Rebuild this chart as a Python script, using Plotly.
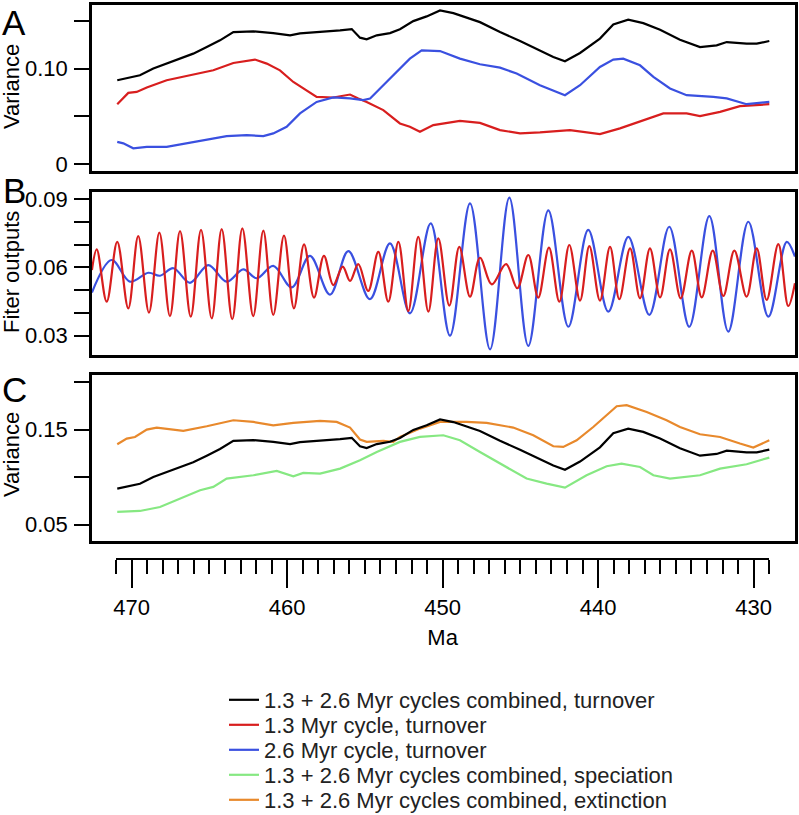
import plotly.graph_objects as go

# ---------------- data (Ma, value) ----------------
# Panel A / C : combined turnover (black)
black_ma = [470.93, 469.90, 469.47, 468.61, 467.32, 466.04, 465.17, 464.32, 463.46, 462.17,
            460.89, 459.81, 459.17, 457.88, 456.59, 455.84, 455.31, 454.88, 454.23, 453.38,
            452.74, 451.88, 451.02, 450.16, 449.30, 447.59, 446.30, 445.01, 443.73, 442.87,
            442.12, 441.15, 439.87, 439.01, 438.05, 437.08, 436.00, 434.72, 433.43, 432.36,
            431.71, 430.43, 429.78, 428.97]
black_val = [0.0878, 0.0917, 0.0930, 0.1000, 0.1076, 0.1156, 0.1225, 0.1295, 0.1381, 0.1389,
             0.1371, 0.1347, 0.1368, 0.1381, 0.1399, 0.1413, 0.1323, 0.1305, 0.1347, 0.1371,
             0.1411, 0.1496, 0.1545, 0.1607, 0.1579, 0.1485, 0.1381, 0.1288, 0.1191, 0.1121,
             0.1076, 0.1163, 0.1313, 0.1461, 0.1510, 0.1475, 0.1406, 0.1302, 0.1225, 0.1243,
             0.1277, 0.1260, 0.1260, 0.1288]

# Panel A : 1.3 Myr cycle, turnover (red)
red_ma = [470.93, 470.54, 470.22, 469.68, 469.03, 467.75, 466.46, 464.75, 463.46, 462.07,
          461.31, 460.46, 459.60, 458.74, 458.10, 457.03, 455.95, 455.42, 454.88, 453.81,
          452.74, 452.10, 451.45, 450.59, 448.88, 447.59, 446.30, 445.01, 443.73, 441.80,
          439.87, 438.58, 437.29, 435.79, 434.29, 433.43, 432.14, 430.86, 428.97]
red_val = [0.0628, 0.0688, 0.0746, 0.0756, 0.0802, 0.0878, 0.0920, 0.0982, 0.1058, 0.1094,
           0.1052, 0.0982, 0.0860, 0.0774, 0.0704, 0.0698, 0.0729, 0.0688, 0.0652, 0.0566,
           0.0427, 0.0392, 0.0340, 0.0410, 0.0454, 0.0433, 0.0357, 0.0323, 0.0333, 0.0357,
           0.0316, 0.0375, 0.0444, 0.0531, 0.0531, 0.0503, 0.0548, 0.0607, 0.0628]

# Panel A : 2.6 Myr cycle, turnover (blue)
blue_ma = [470.93, 470.54, 469.90, 469.03, 467.75, 466.46, 465.17, 463.89, 462.60, 461.53,
           460.89, 460.03, 459.17, 458.10, 457.03, 455.95, 455.10, 454.66, 453.81, 452.74,
           452.10, 451.34, 450.16, 448.88, 447.59, 446.30, 445.23, 443.73, 442.12, 441.15,
           439.87, 439.01, 438.37, 437.29, 436.43, 435.36, 434.29, 432.57, 431.71, 430.43,
           428.97]
blue_val = [0.0235, 0.0219, 0.0167, 0.0183, 0.0183, 0.0219, 0.0253, 0.0295, 0.0305, 0.0295,
            0.0323, 0.0392, 0.0531, 0.0652, 0.0698, 0.0688, 0.0670, 0.0688, 0.0826, 0.1000,
            0.1104, 0.1191, 0.1183, 0.1104, 0.1045, 0.1010, 0.0948, 0.0826, 0.0722, 0.0826,
            0.1017, 0.1094, 0.1104, 0.1034, 0.0913, 0.0792, 0.0722, 0.0704, 0.0688, 0.0628,
            0.0652]

# Panel B : filter outputs (extrema of the 1.3 Myr filter, red)
fred_ma = [472.56, 472.25, 471.61, 470.93, 470.22, 469.58, 468.89, 468.22, 467.54, 466.89,
           466.20, 465.54, 464.85, 464.21, 463.53, 462.88, 462.18, 461.53, 460.89, 460.20,
           459.56, 458.91, 458.27, 457.63, 457.03, 456.42, 455.95, 455.42, 454.78, 454.13,
           453.49, 452.84, 452.20, 451.56, 450.91, 450.27, 449.56, 448.92, 448.23, 447.59,
           446.83, 445.91, 445.19, 444.48, 443.84, 443.15, 442.48, 441.84, 441.15, 440.55,
           439.87, 439.22, 438.62, 437.93, 437.29, 436.65, 436.00, 435.36, 434.67, 433.96,
           433.32, 432.61, 431.93, 431.22, 430.43, 429.78, 429.14, 428.39, 427.75, 427.32]
fred_val = [0.0588, 0.0679, 0.0449, 0.0712, 0.0420, 0.0737, 0.0401, 0.0752, 0.0386, 0.0759,
            0.0383, 0.0764, 0.0376, 0.0768, 0.0372, 0.0771, 0.0386, 0.0761, 0.0391, 0.0739,
            0.0420, 0.0701, 0.0467, 0.0650, 0.0522, 0.0603, 0.0540, 0.0614, 0.0496, 0.0668,
            0.0449, 0.0712, 0.0408, 0.0734, 0.0405, 0.0727, 0.0432, 0.0690, 0.0471, 0.0642,
            0.0525, 0.0614, 0.0508, 0.0654, 0.0467, 0.0686, 0.0449, 0.0698, 0.0454, 0.0693,
            0.0454, 0.0690, 0.0460, 0.0683, 0.0464, 0.0683, 0.0468, 0.0679, 0.0464, 0.0673,
            0.0468, 0.0673, 0.0474, 0.0673, 0.0471, 0.0683, 0.0457, 0.0702, 0.0430, 0.0530]

# Panel B : filter outputs (extrema of the 2.6 Myr filter, blue)
fblue_ma = [472.56, 471.29, 470.11, 468.93, 468.18, 467.32, 466.25, 465.07, 463.89, 462.82,
            461.96, 460.89, 459.70, 458.53, 457.24, 456.06, 454.67, 453.38, 452.09, 450.76,
            449.52, 448.23, 446.94, 445.70, 444.48, 443.19, 441.90, 440.62, 439.33, 438.04,
            436.69, 435.41, 434.12, 432.83, 431.61, 430.32, 429.03, 427.85, 427.32]
fblue_val = [0.0489, 0.0632, 0.0537, 0.0576, 0.0563, 0.0596, 0.0532, 0.0610, 0.0537, 0.0591,
             0.0552, 0.0606, 0.0512, 0.0650, 0.0480, 0.0671, 0.0460, 0.0705, 0.0398, 0.0793,
             0.0300, 0.0881, 0.0240, 0.0906, 0.0255, 0.0850, 0.0339, 0.0764, 0.0405, 0.0734,
             0.0391, 0.0778, 0.0339, 0.0825, 0.0318, 0.0800, 0.0383, 0.0712, 0.0647]

# Panel C : speciation (green)
green_ma = [470.93, 469.47, 468.18, 466.89, 465.60, 464.75, 463.89, 462.17, 460.67, 459.60,
            458.96, 457.88, 456.59, 455.31, 454.23, 452.74, 451.45, 449.95, 448.88, 447.59,
            446.30, 444.59, 443.30, 442.12, 440.73, 439.44, 438.48, 437.29, 436.43, 435.36,
            433.43, 432.14, 430.43, 428.97]
green_val = [0.0633, 0.0643, 0.0685, 0.0774, 0.0861, 0.0896, 0.0984, 0.1019, 0.1064, 0.1008,
             0.1043, 0.1037, 0.1089, 0.1177, 0.1264, 0.1370, 0.1422, 0.1440, 0.1387, 0.1264,
             0.1142, 0.0984, 0.0931, 0.0889, 0.1019, 0.1114, 0.1142, 0.1106, 0.1019, 0.0984,
             0.1019, 0.1089, 0.1135, 0.1205]

# Panel C : extinction (orange)
orange_ma = [470.93, 470.32, 469.79, 469.03, 468.39, 466.68, 465.17, 463.46, 462.17, 460.89,
             459.60, 457.88, 456.81, 455.95, 455.31, 454.88, 453.81, 453.17, 452.74, 451.45,
             450.16, 448.45, 447.16, 445.45, 444.16, 442.87, 442.23, 441.37, 440.30, 438.79,
             438.15, 436.86, 435.58, 434.72, 433.43, 432.14, 430.86, 430.00, 428.97]
orange_val = [0.1345, 0.1405, 0.1422, 0.1500, 0.1521, 0.1486, 0.1535, 0.1598, 0.1580, 0.1545,
              0.1570, 0.1591, 0.1580, 0.1521, 0.1395, 0.1370, 0.1380, 0.1370, 0.1422, 0.1510,
              0.1580, 0.1580, 0.1570, 0.1521, 0.1440, 0.1324, 0.1317, 0.1387, 0.1527, 0.1745,
              0.1756, 0.1685, 0.1598, 0.1527, 0.1450, 0.1422, 0.1353, 0.1310, 0.1387]

legend_names = ["1.3 + 2.6 Myr cycles combined, turnover",
                "1.3 Myr cycle, turnover",
                "2.6 Myr cycle, turnover",
                "1.3 + 2.6 Myr cycles combined, speciation",
                "1.3 + 2.6 Myr cycles combined, extinction"]

# ---------------- styling ----------------
C_BLACK = "#000000"
C_RED = "#d81e1e"
C_BLUE = "#3a50e0"
C_GREEN = "#86e882"
C_ORANGE = "#e8892c"
FONT = "Liberation Sans, Arial, sans-serif"
FS = 22
LW = 2.2

fig = go.Figure()

def add(x, y, color, name, xa, ya, show, leg="legend", shape="linear"):
    fig.add_trace(go.Scatter(x=x, y=y, mode="lines", name=name,
                             line=dict(color=color, width=LW, shape=shape, smoothing=1.0),
                             xaxis=xa, yaxis=ya, showlegend=show, legend=leg))

add(black_ma, black_val, C_BLACK, legend_names[0], "x", "y", True, "legend")
add(red_ma, red_val, C_RED, legend_names[1], "x", "y", True, "legend2")
add(blue_ma, blue_val, C_BLUE, legend_names[2], "x", "y", True, "legend3")
add(green_ma, green_val, C_GREEN, legend_names[3], "x3", "y3", True, "legend4")
add(orange_ma, orange_val, C_ORANGE, legend_names[4], "x3", "y3", True, "legend5")
add(fblue_ma, fblue_val, C_BLUE, legend_names[2], "x2", "y2", False, shape="spline")
add(fred_ma, fred_val, C_RED, legend_names[1], "x2", "y2", False, shape="spline")
add(black_ma, black_val, C_BLACK, legend_names[0], "x3", "y3", False)

XR = [472.555, 427.317]
box = dict(showline=True, linecolor="black", linewidth=2.6, mirror=True,
           showgrid=False, zeroline=False, automargin=False)
xpanel = {**box, "range": XR, "showticklabels": False, "ticks": ""}
ytick = dict(ticks="outside", ticklen=15, tickwidth=2.4, tickcolor="black",
             ticklabelstandoff=2,
             tickfont=dict(family=FONT, size=FS, color="black"))

def yax(**kw):
    d = {**box, **ytick}
    d.update(kw)
    return d

# legend placement (one legend per entry to match the tight line spacing)
def leg(i):
    ypx = 700 + 25 * i - 21
    return dict(x=(224 - 92) / 703, y=(559 - ypx) / 555, xanchor="left", yanchor="top",
                font=dict(family=FONT, size=FS, color="#222222"),
                bgcolor="rgba(0,0,0,0)", itemwidth=30)

fig.update_layout(
    width=799, height=815,
    margin=dict(l=92, r=4, t=4, b=256, autoexpand=False),
    plot_bgcolor="rgba(0,0,0,0)", paper_bgcolor="white",
    font=dict(family=FONT, size=FS, color="black"),
    xaxis={**xpanel, "domain": [0, 1], "anchor": "y"},
    xaxis2={**xpanel, "domain": [0, 1], "anchor": "y2"},
    xaxis3={**xpanel, "domain": [0, 1], "anchor": "y3"},
    xaxis4=dict(range=[471.01, 428.99], domain=[0.03414, 0.96344], anchor="free", position=0,
                showline=True, linecolor="black", linewidth=2.4, automargin=False,
                showgrid=False, zeroline=False,
                ticks="outside", ticklen=28, tickwidth=2.4, tickcolor="black",
                tickmode="linear", tick0=430, dtick=10,
                minor=dict(ticks="outside", ticklen=14, tickwidth=2.4, tickcolor="black",
                           dtick=1, tick0=430),
                tickfont=dict(family=FONT, size=FS, color="black"),
                title=dict(text="Ma", font=dict(family=FONT, size=FS, color="black"), standoff=10)),
    yaxis=yax(domain=[0.6996, 0.9987], range=[-0.0067, 0.1667], anchor="x",
              tickvals=[0, 0.05, 0.10, 0.15], ticktext=["0", "", "0.10", ""]),
    yaxis2=yax(domain=[0.3676, 0.6618], range=[0.0215, 0.0932], anchor="x2",
               tickvals=[0.03, 0.04, 0.05, 0.06, 0.07, 0.08, 0.09],
               ticktext=["0.03", "", "", "0.06", "", "", "0.09"]),
    yaxis3=yax(domain=[0.0333, 0.3315], range=[0.0332, 0.2074], anchor="x3",
               tickvals=[0.05, 0.10, 0.15, 0.20], ticktext=["0.05", "", "0.15", ""]),
    legend=leg(0), legend2=leg(1), legend3=leg(2), legend4=leg(3), legend5=leg(4),
    showlegend=True,
)

# invisible trace to activate the bottom axis
fig.add_trace(go.Scatter(x=[471, 429], y=[None, None], xaxis="x4", yaxis="y3",
                         mode="lines", showlegend=False, hoverinfo="skip"))

# panel letters and y-axis titles
def ann(text, xpx, ypx, size, angle=0):
    fig.add_annotation(text=text, xref="paper", yref="paper",
                       x=(xpx - 92) / 703, y=(559 - ypx) / 555,
                       xanchor="center", yanchor="middle", showarrow=False,
                       textangle=angle, font=dict(family=FONT, size=size, color="black"))

ann("A", 14, 22, 35)
ann("B", 14, 190, 35)
ann("C", 14, 389, 35)
ann("Variance", 11, 87, FS, -90)
ann("Fiter outputs", 11, 272, FS, -90)
ann("Variance", 11, 455, FS, -90)

# the page's default 8px body margin would shift the figure; remove it
fig.write_html("out.html", config={"displayModeBar": False},
               post_script="document.body.style.margin='0';")
